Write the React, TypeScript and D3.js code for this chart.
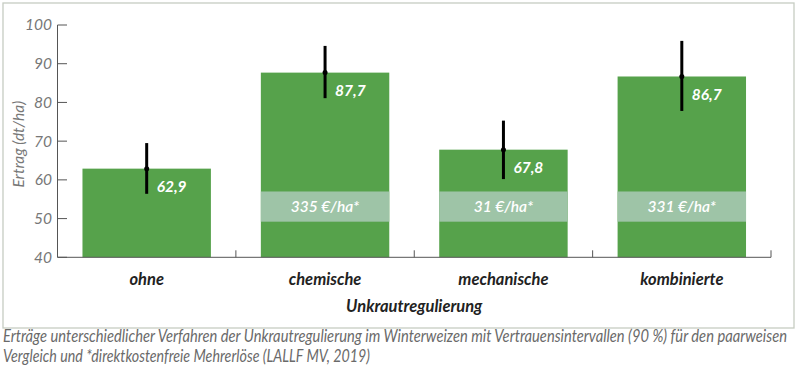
import React from "react";
import * as d3 from "d3";

const categories = ["ohne", "chemische", "mechanische", "kombinierte"];
const yields = [62.9, 87.7, 67.8, 86.7];
const ciLow = [56.4, 81.1, 60.2, 77.8];
const ciHigh = [69.5, 94.6, 75.3, 95.9];
const revenueLabels = ["", "335 €/ha*", "31 €/ha*", "331 €/ha*"];
const yTicks = [40, 50, 60, 70, 80, 90, 100];
const bandRange = [49.2, 57.0];
const captionLines = [
  "Erträge unterschiedlicher Verfahren der Unkrautregulierung im Winterweizen mit Vertrauensintervallen (90 %) für den paarweisen",
  "Vergleich und *direktkostenfreie Mehrerlöse (LALLF MV, 2019)",
];

const W = 800;
const H = 373;
const GREEN = "#56a24b";
const BAND = "#9ec4a7";
const LABEL_FONT = "Lato, 'Open Sans', sans-serif";

export default function App() {
  const y = d3.scaleLinear().domain([40, 100]).range([257.3, 25]);
  const x = d3
    .scaleBand<string>()
    .domain(categories)
    .range([57.5, 771])
    .paddingInner(0.28)
    .paddingOuter(0.14);
  const bw = x.bandwidth();
  const boundaries = categories.map((_, i) => x.range()[0] + (i + 1) * x.step());
  const captionWidths = [784, 367];

  return (
    <svg
      width={W}
      height={H}
      style={{ position: "absolute", left: 0, top: 0, background: "#fff" }}
    >
      <rect x={3} y={3} width={791} height={325} fill="#fff" stroke="#c6ccc2" strokeWidth={1.3} />

      {categories.map((c, i) => {
        const x0 = x(c)!;
        const cx = x0 + bw / 2;
        return (
          <g key={c}>
            <rect x={x0} y={y(yields[i])} width={bw} height={y(40) - y(yields[i])} fill={GREEN} />
            {revenueLabels[i] && (
              <>
                <rect
                  x={x0}
                  y={y(bandRange[1])}
                  width={bw}
                  height={y(bandRange[0]) - y(bandRange[1])}
                  fill={BAND}
                />
                <text
                  x={cx}
                  y={(y(bandRange[0]) + y(bandRange[1])) / 2}
                  dy="0.35em"
                  textAnchor="middle"
                  fill="#fff"
                  fontFamily={LABEL_FONT}
                  fontStyle="italic"
                  fontWeight={600}
                  fontSize={15.5}
                >
                  {revenueLabels[i]}
                </text>
              </>
            )}
            <line x1={cx} x2={cx} y1={y(ciHigh[i])} y2={y(ciLow[i])} stroke="#000" strokeWidth={3} />
            <circle cx={cx} cy={y(yields[i])} r={2.5} fill="#000" />
            <text
              x={cx + 10}
              y={y(yields[i]) + 18}
              dy="0.35em"
              fill="#fff"
              fontFamily={LABEL_FONT}
              fontStyle="italic"
              fontWeight={700}
              fontSize={15.5}
            >
              {d3.format(".1f")(yields[i]).replace(".", ",")}
            </text>
          </g>
        );
      })}

      <line x1={57.5} x2={57.5} y1={y(100)} y2={y(40)} stroke="#555" strokeWidth={1} />
      {yTicks.map((t) => (
        <g key={t}>
          <line x1={57.5} x2={67} y1={y(t)} y2={y(t)} stroke="#555" strokeWidth={1} />
          <text
            x={52}
            y={y(t)}
            dy="0.35em"
            textAnchor="end"
            fill="#777"
            fontFamily={LABEL_FONT}
            fontStyle="italic"
            fontSize={15.5}
          >
            {t}
          </text>
        </g>
      ))}
      <text
        transform={`translate(19,${(y(40) + y(100)) / 2 + 3}) rotate(-90)`}
        textAnchor="middle"
        dy="0.35em"
        fill="#777"
        fontFamily={LABEL_FONT}
        fontStyle="italic"
        fontSize={15.5}
      >
        Ertrag (dt/ha)
      </text>

      <line x1={57.5} x2={771} y1={y(40)} y2={y(40)} stroke="#555" strokeWidth={1} />
      {boundaries.map((b, i) => (
        <line key={i} x1={b} x2={b} y1={y(40)} y2={y(40) - 7} stroke="#555" strokeWidth={1} />
      ))}
      {categories.map((c) => (
        <text
          key={c}
          x={x(c)! + bw / 2}
          y={285}
          textAnchor="middle"
          fill="#222"
          fontFamily={LABEL_FONT}
          fontStyle="italic"
          fontWeight={700}
          fontSize={16.5}
        >
          {c}
        </text>
      ))}
      <text
        x={(57.5 + 771) / 2}
        y={312}
        textAnchor="middle"
        fill="#222"
        fontFamily={LABEL_FONT}
        fontStyle="italic"
        fontWeight={700}
        fontSize={16.5}
      >
        Unkrautregulierung
      </text>

      {captionLines.map((line, i) => (
        <g key={i} transform={`translate(3,${342 + i * 20}) scale(1,1.1)`}>
          <text
            x={0}
            y={0}
            fill="#6a6a6a"
            fontFamily={LABEL_FONT}
            fontStyle="italic"
            fontWeight={400}
            fontSize={15}
            textLength={captionWidths[i]}
            lengthAdjust="spacingAndGlyphs"
          >
            {line}
          </text>
        </g>
      ))}
    </svg>
  );
}
